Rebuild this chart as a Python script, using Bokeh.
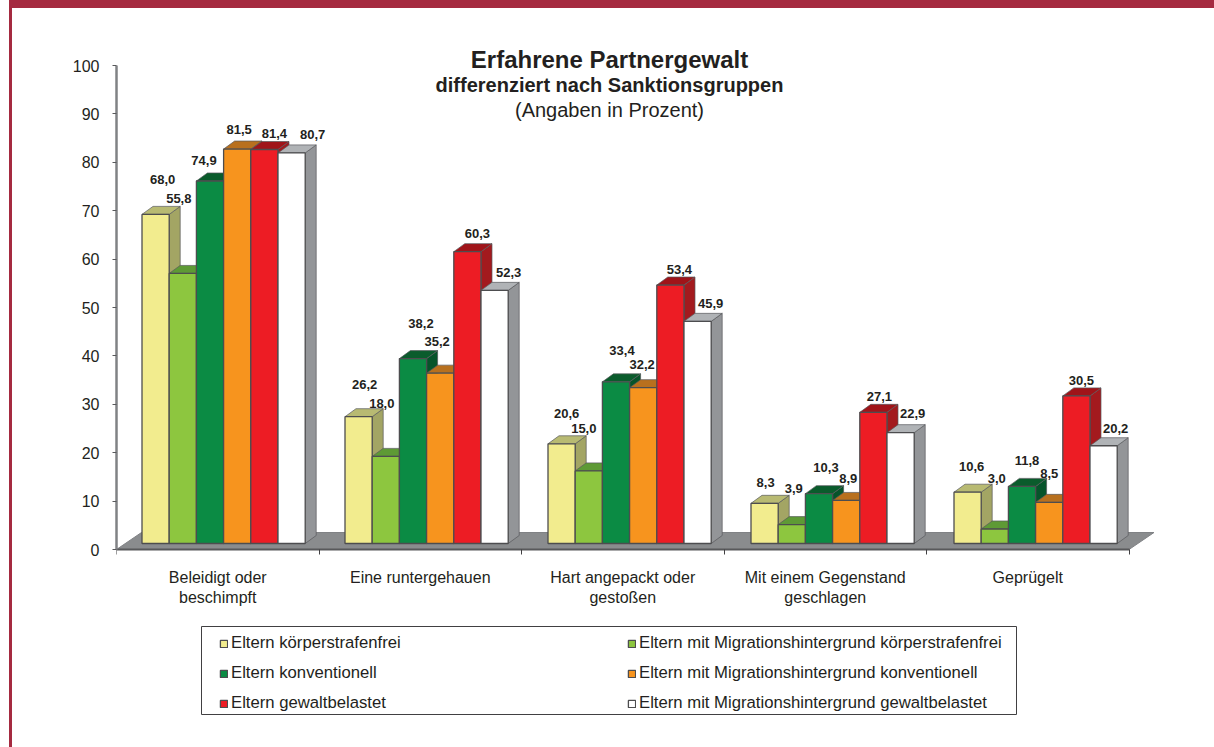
from bokeh.plotting import figure
from bokeh.embed import file_html
from bokeh.resources import INLINE
from bokeh.models import (BoxAnnotation, FixedTicker, Label, Legend, LegendItem,
                          ColumnDataSource, Range1d)
from bokeh.core.properties import value

categories = ["Beleidigt oder\nbeschimpft", "Eine runtergehauen", "Hart angepackt oder\ngestoßen",
              "Mit einem Gegenstand\ngeschlagen", "Geprügelt"]
series_names = ["Eltern körperstrafenfrei", "Eltern mit Migrationshintergrund körperstrafenfrei",
                "Eltern konventionell", "Eltern mit Migrationshintergrund konventionell",
                "Eltern gewaltbelastet", "Eltern mit Migrationshintergrund gewaltbelastet"]
eltern_frei = [68.0, 26.2, 20.6, 8.3, 10.6]
migration_frei = [55.8, 18.0, 15.0, 3.9, 3.0]
eltern_konv = [74.9, 38.2, 33.4, 10.3, 11.8]
migration_konv = [81.5, 35.2, 32.2, 8.9, 8.5]
eltern_gewalt = [81.4, 60.3, 53.4, 27.1, 30.5]
migration_gewalt = [80.7, 52.3, 45.9, 22.9, 20.2]
series_values = [eltern_frei, migration_frei, eltern_konv, migration_konv, eltern_gewalt, migration_gewalt]
y_ticks = list(range(0, 101, 10))

# styling: front, top, side colours per series
FRONT = ["#F2EC8E", "#8DC63F", "#0B8B44", "#F7941E", "#ED1C24", "#FFFFFF"]
TOP = ["#B8BA72", "#5E9A35", "#0A5C2C", "#B8701E", "#A01419", "#B0B3B6"]
SIDE = ["#A3A564", "#6E9A32", "#06542A", "#9A5A18", "#A31A1E", "#939598"]
# label offsets from the bar's top centre, in pixels
LABEL_DX = [[7, 6, 5, 1, 4], [-4, -4, -5, 2, 2], [-6, 8, 6, 7, 5],
            [2, -3, -1, 2, 0], [10, 10, 9, 6, 5], [21, 14, 13, 12, 12]]
LABEL_DY = [[-35, -32, -30, -21, -26], [-75, -53, -42, -36, -50], [-20, -35, -31, -26, -26],
            [-20, -32, -23, -22, -29], [-16, -18, -16, -16, -15], [-18, -18, -18, -19, -17]]

FONT = "Liberation Sans"
INK = "#231F20"
BAND = "#A52A40"
PX_X = 202.5           # pixels per x unit
PX_Y = 4.84            # pixels per y unit
BASE = 6 / PX_Y        # bars stand on the floor, above the axis line
BAR_W = 27.2 / PX_X
BAR_START = 25.5 / PX_X
GROUP_STEP = 203 / PX_X
DEPTH_X = 11 / PX_X
DEPTH_Y = 8 / PX_Y
FLOOR_X = 25 / PX_X
FLOOR_Y = 17 / PX_Y
X0_PX, Y0_PX = 116, 549  # page position of the axis origin


def dx(px):
    return (px - X0_PX) / PX_X


def dy(px):
    return (Y0_PX - px) / PX_Y


bands = ("linear-gradient({c},{c}) 9px 0/1205px 8px no-repeat,"
         "linear-gradient({c},{c}) 9px 0/3px 747px no-repeat,white").format(c=BAND)
p = figure(width=1214, height=747, output_backend="svg", toolbar_location=None,
           x_range=Range1d(0, 5.2), y_range=Range1d(dy(730), dy(30)),
           min_border_left=116, min_border_right=45, min_border_top=30, min_border_bottom=17,
           styles={"background": bands})
p.outline_line_color = None
p.grid.visible = False
p.background_fill_color = None
p.border_fill_color = None

# floor
p.patch([0, 5, 5 + FLOOR_X, FLOOR_X], [0, 0, FLOOR_Y, FLOOR_Y], fill_color="#8A8C8E", line_color="#808285", line_width=1)

legend_items = []
for s, vals in enumerate(series_values):
    x0 = [BAR_START + g * GROUP_STEP + s * BAR_W for g in range(5)]
    x1 = [x + BAR_W for x in x0]
    tops = [v + BASE for v in vals]
    p.patches([[b, b + DEPTH_X, b + DEPTH_X, b] for b in x1],
              [[BASE, BASE + DEPTH_Y, t + DEPTH_Y, t] for t in tops],
              fill_color=SIDE[s], line_color="#58595B", line_width=0.7)
    p.patches([[a, a + DEPTH_X, b + DEPTH_X, b] for a, b in zip(x0, x1)],
              [[t, t + DEPTH_Y, t + DEPTH_Y, t] for t in tops],
              fill_color=TOP[s], line_color="#58595B", line_width=0.7)
    r = p.vbar(x=[(a + b) / 2 for a, b in zip(x0, x1)], width=BAR_W, bottom=BASE, top=tops,
               fill_color=FRONT[s], line_color="#4D4D4F", line_width=1.3)
    legend_items.append(LegendItem(label=series_names[s], renderers=[r]))

# data labels
for s, vals in enumerate(series_values):
    src = ColumnDataSource(dict(
        x=[BAR_START + g * GROUP_STEP + (s + 0.5) * BAR_W for g in range(5)],
        y=[v + BASE for v in vals],
        t=[f"{v:.1f}".replace(".", ",") for v in vals],
        dx=LABEL_DX[s], dy=LABEL_DY[s]))
    p.text("x", "y", text="t", x_offset="dx", y_offset="dy", source=src, text_align="center",
           text_baseline="middle", text_font=value(FONT), text_font_style="bold",
           text_font_size="13px", text_color=INK)

# axes
p.yaxis.ticker = FixedTicker(ticks=y_ticks)
p.yaxis.bounds = (0, 100)
p.yaxis.axis_line_color = "#808285"
p.yaxis.axis_line_width = 2.5
p.yaxis.major_tick_line_color = "#58595B"
p.yaxis.major_tick_line_width = 1
p.yaxis.major_tick_out = 4
p.yaxis.major_tick_in = 0
p.yaxis.minor_tick_out = 0
p.yaxis.minor_tick_in = 0
p.yaxis.major_label_text_font = FONT
p.yaxis.major_label_text_font_size = "16px"
p.yaxis.major_label_text_color = INK
p.yaxis.major_label_standoff = 13

p.xaxis.fixed_location = 0
p.xaxis.ticker = FixedTicker(ticks=[i + 0.5 for i in range(5)], minor_ticks=list(range(6)))
p.xaxis.bounds = (0, 5)
p.xaxis.major_label_overrides = {i + 0.5: c for i, c in enumerate(categories)}
p.xaxis.axis_line_color = "#58595B"
p.xaxis.axis_line_width = 2
p.xaxis.major_tick_out = 0
p.xaxis.major_tick_in = 0
p.xaxis.minor_tick_out = 5
p.xaxis.minor_tick_in = 0
p.xaxis.minor_tick_line_color = "#414042"
p.xaxis.major_label_text_font = FONT
p.xaxis.major_label_text_font_size = "16px"
p.xaxis.major_label_text_color = INK
p.xaxis.major_label_standoff = 14

# title block
for txt, ypx, size, style in [("Erfahrene Partnergewalt", 59, "24px", "bold"),
                              ("differenziert nach Sanktionsgruppen", 84, "20px", "bold"),
                              ("(Angaben in Prozent)", 109, "20px", "normal")]:
    p.add_layout(Label(x=dx(609), y=dy(ypx), text=txt,
                       text_align="center", text_baseline="middle", text_font=FONT,
                       text_font_size=size, text_font_style=style, text_color=INK))

# legend
p.add_layout(BoxAnnotation(left=dx(201), right=dx(1016), top=dy(626), bottom=dy(714),
                           fill_color="white", fill_alpha=1, line_color="#414042", line_alpha=1, line_width=1))
leg = Legend(items=legend_items, ncols=2, location=(219 - 116, 730 - 713), orientation="horizontal",
             background_fill_alpha=0, border_line_color=None, padding=0, margin=0,
             glyph_width=9, glyph_height=9, label_standoff=3, spacing=10, label_width=386,
             label_text_font=FONT, label_text_font_size="16.7px", label_text_color=INK)
p.add_layout(leg, "center")

open("out.html", "w").write(file_html(p, INLINE))
